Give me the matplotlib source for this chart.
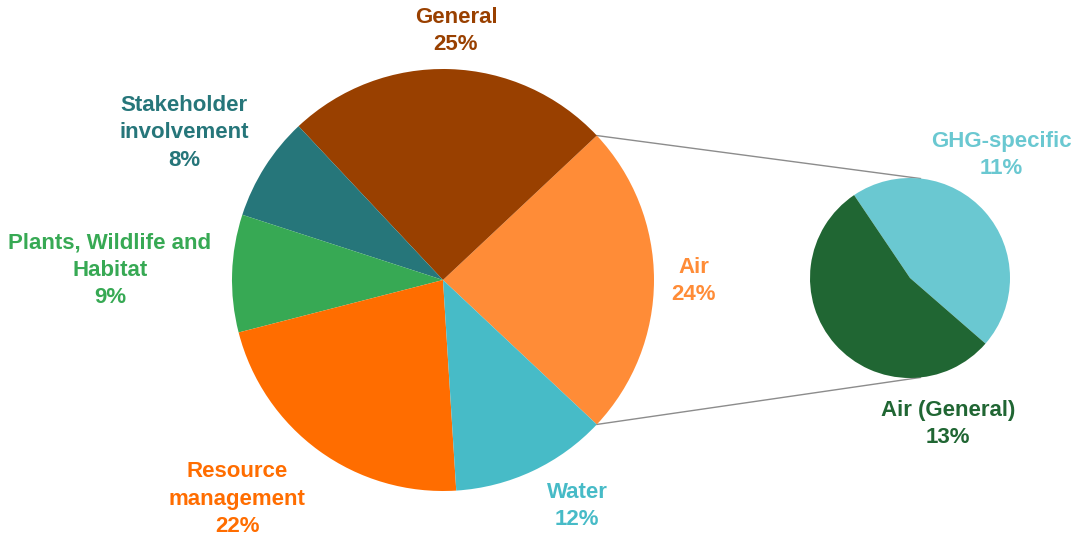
import matplotlib
matplotlib.use("Agg")
import matplotlib.pyplot as plt
import numpy as np

# Main pie data (counter-clockwise starting from Air)
main_labels = ["Air", "General", "Stakeholder\ninvolvement", "Plants, Wildlife and\nHabitat",
               "Resource\nmanagement", "Water"]
main_values = [24, 25, 8, 9, 22, 12]
main_colors = ["#FF8C37", "#994000", "#26767A", "#37A954", "#FF6D00", "#47BBC7"]

# Secondary pie (breakdown of Air)
sub_labels = ["GHG-specific", "Air (General)"]
sub_values = [11, 13]
sub_colors = ["#6AC8D1", "#206633"]

W, H = 1078, 540
fig = plt.figure(figsize=(W / 100, H / 100), dpi=100)
ax = fig.add_axes([0, 0, 1, 1])

def py(y):
    return H - y

main_c = (443, py(280)); main_r = 211
sub_c = (910, py(278)); sub_r = 100

air_angle = main_values[0] / sum(main_values) * 360
ax.pie(main_values, colors=main_colors, startangle=-air_angle / 2, counterclock=True,
       center=main_c, radius=main_r, frame=True,
       wedgeprops=dict(linewidth=0))

ax.pie(sub_values, colors=sub_colors, startangle=-41, counterclock=True,
       center=sub_c, radius=sub_r, frame=True,
       wedgeprops=dict(linewidth=0))
ax.set_xlim(0, W)
ax.set_ylim(0, H)
ax.set_aspect("equal")
ax.axis("off")

# connector lines
a = np.deg2rad(air_angle / 2)
p_top = (main_c[0] + main_r * np.cos(a), main_c[1] + main_r * np.sin(a))
p_bot = (main_c[0] + main_r * np.cos(-a), main_c[1] + main_r * np.sin(-a))
b = np.deg2rad(84)
s_top = (sub_c[0] + sub_r * np.cos(b), sub_c[1] + sub_r * np.sin(b))
s_bot = (sub_c[0] + sub_r * np.cos(-b), sub_c[1] + sub_r * np.sin(-b))
ax.plot([p_top[0], s_top[0]], [p_top[1], s_top[1]], color="#8C8C8C", lw=1.0, zorder=0)
ax.plot([p_bot[0], s_bot[0]], [p_bot[1], s_bot[1]], color="#8C8C8C", lw=1.0, zorder=0)

font = dict(family=["Liberation Sans", "DejaVu Sans"], fontsize=16, fontweight="bold",
            ha="center", va="center", linespacing=1.38)

main_pcts = [f"{v}%" for v in main_values]
main_label_pos = [(694, 281), (456, 31), (184, 133), (110, 270), (237, 499), (577, 506)]
for lab, pct, col, (x, y) in zip(main_labels, main_pcts, main_colors, main_label_pos):
    ax.text(x, py(y), f"{lab}\n{pct}", color=col, **font)

sub_label_pos = [(1001, 155), (948, 424)]
for lab, v, col, (x, y) in zip(sub_labels, sub_values, sub_colors, sub_label_pos):
    ax.text(x, py(y), f"{lab}\n{v}%", color=col, **font)

fig.savefig("out.png", dpi=100)
